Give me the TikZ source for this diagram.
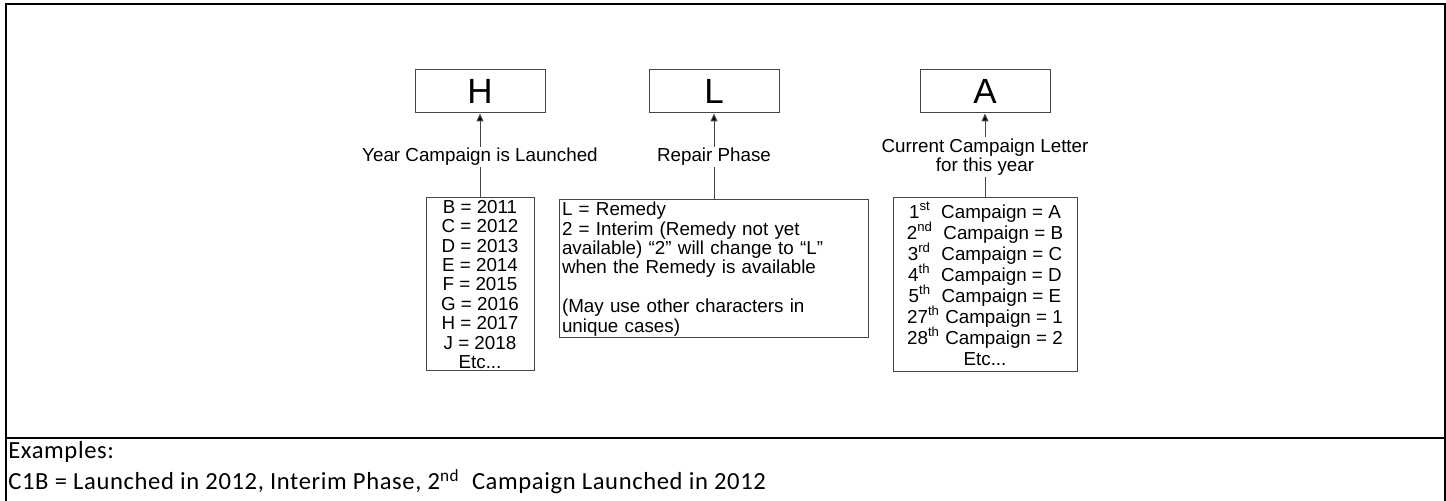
\documentclass[tikz,border=0pt]{standalone}
\usepackage{fontspec}
\setmainfont{Liberation Sans}
\newfontfamily\exfont[LetterSpace=2.5]{Carlito}
\usetikzlibrary{arrows.meta}
\definecolor{boxgray}{RGB}{70,70,70}
\newcommand\supx[1]{\smash{\textsuperscript{#1}}}
\begin{document}
\begin{tikzpicture}[x=0.5pt,y=-0.5pt,
  frame/.style={line width=1pt, draw=black, line join=miter},
  topbox/.style={draw=boxgray, line width=0.5pt, minimum width=65pt, minimum height=21.5pt, inner sep=0pt, font=\fontsize{17.5}{20}\selectfont},
  lbl/.style={inner sep=0.5pt, align=center, font=\fontsize{9.4}{9.7}\selectfont},
  listbox/.style={draw=boxgray, line width=0.5pt, inner sep=0pt, align=center, font=\fontsize{9.4}{9.7}\selectfont},
  conn/.style={draw=boxgray, line width=0.5pt},
  arr/.style={conn, -{Triangle[length=4pt,width=3.5pt,fill=black]}},
  extext/.style={anchor=base west, inner sep=0pt, font=\exfont\fontsize{12.3}{15}\selectfont}
]
\useasboundingbox (0,0) rectangle (1446,501);
\draw[frame] (6,501) -- (6,4) -- (1445,4) -- (1445,501);
\draw[frame] (6,438.5) -- (1445,438.5);

\node[topbox] (H) at (480,91.5) {H};
\node[topbox] (L) at (714,91.5) {L};
\node[topbox] (A) at (985,91.5) {A};

\node[lbl] (lH) at (480,157) {Year Campaign is Launched};
\node[lbl] (lL) at (714,157) {Repair Phase};
\node[lbl] (lA) at (985,157) {Current Campaign Letter\\for this year};

\node[listbox, minimum width=54pt, minimum height=86.5pt] (Hl) at (480,284.5)
  {B = 2011\\C = 2012\\D = 2013\\E = 2014\\F = 2015\\G = 2016\\H = 2017\\J = 2018\\Etc...};
\node[listbox, text width=151.5pt, inner xsep=1.5pt, align=left, minimum height=69pt] (Ll) at (713.5,269)
  {L = Remedy\\2 = Interim (Remedy not yet\\available) “2” will change to “L”\\when the Remedy is available\\\mbox{}\\(May use other characters in\\unique cases)};
\node[listbox, minimum width=92pt, minimum height=87pt, font=\fontsize{9.4}{10.5}\selectfont] (Al) at (985,285)
  {1\supx{st}\ \ Campaign = A\\2\supx{nd}\ \ Campaign = B\\3\supx{rd}\ \ Campaign = C\\4\supx{th}\ \ Campaign = D\\5\supx{th}\ \ Campaign = E\\27\supx{th} Campaign = 1\\28\supx{th} Campaign = 2\\Etc...};

\draw[arr] (lH.north) -- (H.south);
\draw[arr] (lL.north) -- (L.south);
\draw[arr] (lA.north) -- (A.south);
\draw[conn] (lH.south) -- (lH.south |- Hl.north);
\draw[conn] (lL.south) -- (lL.south |- Ll.north);
\draw[conn] (lA.south) -- (lA.south |- Al.north);

\node[extext] (ex1) at (8,459) {Examples:};
\node[extext] (ex2) at (8,490) {C1B = Launched in 2012, Interim Phase, 2\supx{nd}\ \ Campaign Launched in 2012};
\end{tikzpicture}
\end{document}
